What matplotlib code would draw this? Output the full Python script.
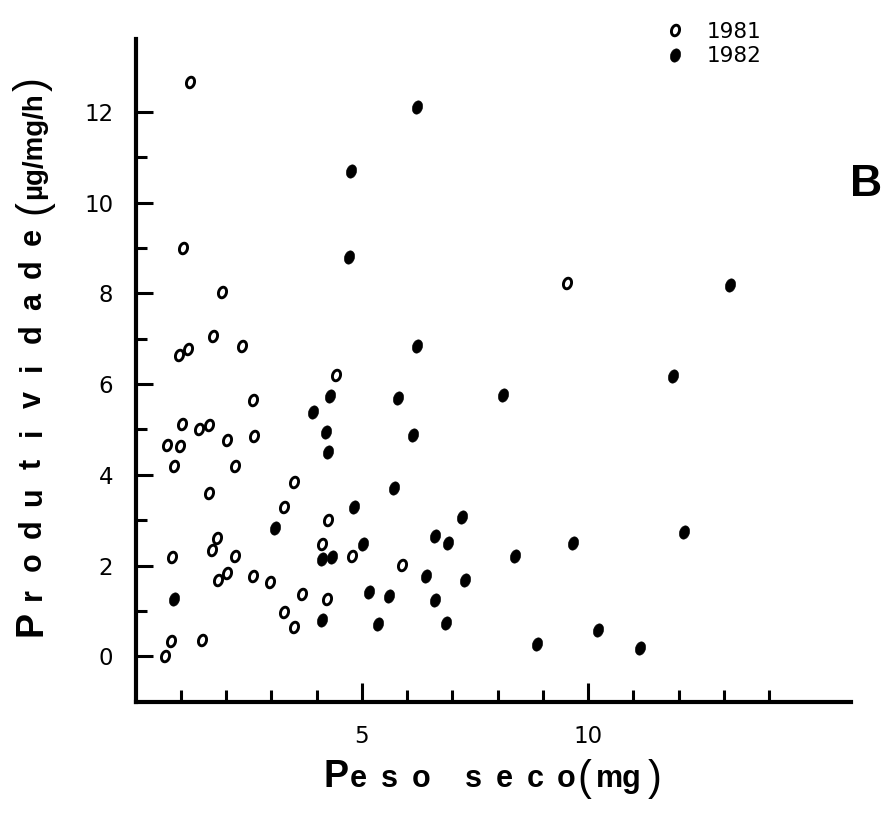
import numpy as np
import matplotlib
matplotlib.use("Agg")
import matplotlib.pyplot as plt
from matplotlib.path import Path
from matplotlib.lines import Line2D

# =========================
# Data
# =========================
# 1981 (open markers)
x_1981 = [1.21, 1.05, 1.91, 1.72, 0.96, 1.16, 2.35, 4.42, 2.59, 1.02,
          1.41, 1.62, 0.70, 0.99, 2.03, 2.61, 0.85, 2.20, 1.62, 3.50,
          3.29, 4.26, 1.80, 1.68, 0.81, 2.19, 4.12, 4.79, 5.88, 1.83,
          2.03, 2.60, 2.97, 3.69, 4.23, 3.28, 3.51, 0.78, 1.48, 0.66,
          9.54]
y_1981 = [12.65, 9.01, 8.03, 7.05, 6.64, 6.77, 6.85, 6.21, 5.64, 5.12,
          5.01, 5.10, 4.65, 4.63, 4.77, 4.85, 4.20, 4.19, 3.60, 3.84,
          3.29, 3.00, 2.61, 2.35, 2.18, 2.22, 2.48, 2.20, 2.01, 1.68,
          1.84, 1.78, 1.63, 1.37, 1.27, 0.98, 0.65, 0.33, 0.37, 0.00,
          8.22]

# 1982 (filled markers)
x_1982 = [0.85, 3.09, 3.93, 4.21, 4.26, 4.30, 4.12, 4.34, 4.12, 4.72,
          4.76, 4.83, 5.02, 5.17, 5.36, 5.61, 5.71, 5.81, 6.14, 6.22,
          6.23, 6.41, 6.61, 6.61, 6.86, 6.91, 7.21, 7.29, 8.13, 8.38,
          8.87, 9.66, 10.21, 11.15, 11.88, 12.12, 13.13]
y_1982 = [1.26, 2.83, 5.38, 4.95, 4.50, 5.73, 2.15, 2.18, 0.79, 8.79,
          10.70, 3.30, 2.48, 1.41, 0.72, 1.32, 3.72, 5.69, 4.87, 12.10,
          6.85, 1.76, 2.66, 1.23, 0.73, 2.50, 3.06, 1.69, 5.75, 2.20,
          0.28, 2.49, 0.57, 0.18, 6.18, 2.73, 8.19]

legend_labels = ["1981", "1982"]

x_major = [5, 10]
x_minor = [1, 2, 3, 4, 6, 7, 8, 9, 11, 12, 13, 14]
y_major = [0, 2, 4, 6, 8, 10, 12]
y_minor = [1, 3, 5, 7, 9, 11]

W, H = 888, 816
LBL = ["Liberation Sans Narrow", "Liberation Sans", "DejaVu Sans"]


def tilted_ellipse(ratio=0.72, tilt=-18):
    # italic "0"-like marker
    t = np.linspace(0, 2 * np.pi, 64)
    x = ratio * np.cos(t)
    y = np.sin(t)
    a = np.deg2rad(tilt)
    xr = x * np.cos(a) - y * np.sin(a)
    yr = x * np.sin(a) + y * np.cos(a)
    return Path(np.c_[xr, yr], closed=True)


def fx(px):
    return px / W


def fy(py):
    return 1 - py / H


def spaced(fig, text, start, pitch, base, size, vertical=False, **kw):
    # letter-spaced label, one character at a time
    for i, ch in enumerate(text):
        if vertical:
            x, y, rot = fx(base), fy(start - i * pitch), 90
        else:
            x, y, rot = fx(start + i * pitch), fy(base), 0
        fig.text(x, y, ch, rotation=rot, rotation_mode="anchor",
                 ha="center", va="baseline", fontsize=size,
                 family=LBL, fontweight="bold", **kw)


mk = tilted_ellipse()
open_style = dict(ls="none", marker=mk, ms=7.6, mfc="none", mec="black", mew=2.1)
fill_style = dict(ls="none", marker=mk, ms=9.6, mfc="black", mec="black", mew=0.4)

fig = plt.figure(figsize=(W / 100, H / 100), dpi=100)
ax = fig.add_axes([0.1526, 0.1401, 0.8052, 0.8118])

ax.plot(x_1981, y_1981, clip_on=False, **open_style)
ax.plot(x_1982, y_1982, clip_on=False, **fill_style)

ax.set_xlim(0, 15.8)
ax.set_ylim(-1, 13.6)

for s in ["top", "right"]:
    ax.spines[s].set_visible(False)
for s in ["left", "bottom"]:
    ax.spines[s].set_linewidth(3.0)

ax.set_xticks(x_major)
ax.set_xticks(x_minor, minor=True)
ax.set_yticks(y_major)
ax.set_yticks(y_minor, minor=True)
ax.set_xticklabels([str(v) for v in x_major])
ax.set_yticklabels([str(v) for v in y_major])

ax.tick_params(axis="x", which="major", direction="in", length=13.5,
               width=2.2, pad=17, labelsize=16.5)
ax.tick_params(axis="x", which="minor", direction="in", length=8.6, width=2.2)
ax.tick_params(axis="y", which="major", direction="in", length=12.5,
               width=2.2, pad=16, labelsize=16.5)
ax.tick_params(axis="y", which="minor", direction="in", length=8.0, width=2.2)

# -------------------------
# Legend
# -------------------------
handles = [Line2D([], [], **open_style), Line2D([], [], **fill_style)]
ax.legend(handles, legend_labels, loc="upper left",
          bbox_to_anchor=(fx(664), fy(22)), bbox_transform=fig.transFigure,
          frameon=False, fontsize=15.5, handlelength=1.0, handletextpad=1.0,
          labelspacing=0.2, borderpad=0, borderaxespad=0)

# -------------------------
# Axis labels
# -------------------------
# x label: "Peso seco (mg)"
fig.text(fx(336), fy(787), "P", ha="center", va="baseline", fontsize=27,
         family=LBL, fontweight="heavy")
spaced(fig, "eso", 358, 31.5, 787, 22)
spaced(fig, "seco", 473, 31, 787, 22)
fig.text(fx(584), fy(790), "(", ha="center", va="baseline", fontsize=30,
         family=LBL)
fig.text(fx(619), fy(787), "mg", ha="center", va="baseline", fontsize=22,
         family=LBL, fontweight="bold")
fig.text(fx(655), fy(790), ")", ha="center", va="baseline", fontsize=30,
         family=LBL)

# y label: "Produtividade (µg/mg/h)"
fig.text(fx(41), fy(624), "P", rotation=90, rotation_mode="anchor",
         ha="center", va="baseline", fontsize=27, family=LBL,
         fontweight="heavy")
spaced(fig, "rodutividade", 594, 32.5, 41, 22, vertical=True)
fig.text(fx(44), fy(207), "(", rotation=90, rotation_mode="anchor",
         ha="center", va="baseline", fontsize=30, family=LBL)
fig.text(fx(41), fy(146), "µg/mg/h", rotation=90, rotation_mode="anchor",
         ha="center", va="baseline", fontsize=20, family=LBL,
         fontweight="bold")
fig.text(fx(44), fy(84), ")", rotation=90, rotation_mode="anchor",
         ha="center", va="baseline", fontsize=30, family=LBL)

# panel letter
fig.text(fx(866), fy(184), "B", ha="center", va="center", fontsize=32,
         family=LBL, fontweight="heavy")

fig.savefig("out.png", dpi=100)
